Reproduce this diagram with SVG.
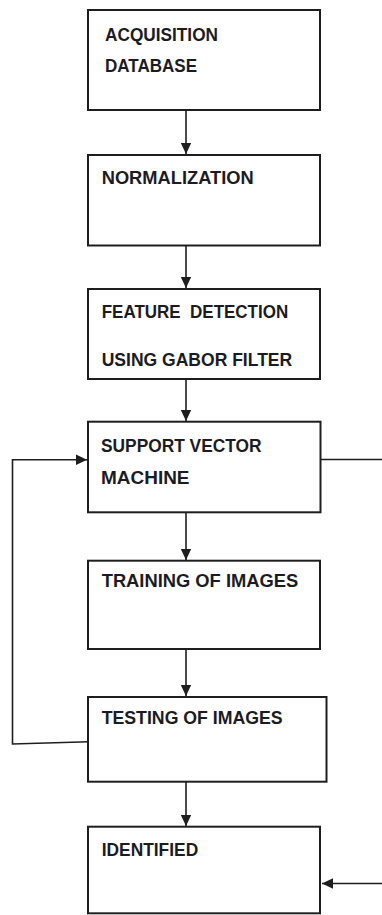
<svg xmlns="http://www.w3.org/2000/svg" width="382" height="915" viewBox="0 0 382 915">
  <style>
    .box { fill: #ffffff; stroke: #1e1e1e; stroke-width: 2; }
    .label { font-family: "Liberation Sans", Arial, sans-serif; font-weight: bold; font-size: 18px; fill: #1b1b24; }
    .wire { fill: none; stroke: #1e1e1e; stroke-width: 1.6; }
  </style>
  <defs>
    <marker id="arrow" markerUnits="userSpaceOnUse" markerWidth="12" markerHeight="12" viewBox="0 0 12 12" refX="11" refY="6" orient="auto">
      <path d="M0,0.8 L11,6 L0,11.2 Z" fill="#1e1e1e"/>
    </marker>
  </defs>

  <rect width="382" height="915" fill="#ffffff"/>

  <!-- connectors -->
  <g id="connectors">
    <line class="wire" x1="186" y1="111" x2="186" y2="154" marker-end="url(#arrow)"/>
    <line class="wire" x1="186" y1="246" x2="186" y2="288" marker-end="url(#arrow)"/>
    <line class="wire" x1="186" y1="380" x2="186" y2="421" marker-end="url(#arrow)"/>
    <line class="wire" x1="186" y1="513" x2="186" y2="560" marker-end="url(#arrow)"/>
    <line class="wire" x1="186" y1="650" x2="186" y2="696" marker-end="url(#arrow)"/>
    <line class="wire" x1="186" y1="782" x2="186" y2="826" marker-end="url(#arrow)"/>
    <!-- feedback loop from testing back to the classifier -->
    <polyline class="wire" points="89,741.7 12.5,744 12.5,459.7 87,459.7" marker-end="url(#arrow)"/>
    <!-- side line leaving the classifier -->
    <line class="wire" x1="321" y1="459.5" x2="382" y2="459.5"/>
    <!-- input into the identified box -->
    <line class="wire" x1="382" y1="883.5" x2="322" y2="883.5" marker-end="url(#arrow)"/>
  </g>

  <g id="acquisition">
    <rect class="box" x="88" y="10" width="232" height="100"/>
    <text class="label" x="105" y="40.5" textLength="113" lengthAdjust="spacingAndGlyphs">ACQUISITION</text>
    <text class="label" x="105" y="72" textLength="92" lengthAdjust="spacingAndGlyphs">DATABASE</text>
  </g>

  <g id="normalization">
    <rect class="box" x="88" y="155" width="232" height="90.5"/>
    <text class="label" x="101.7" y="183.8" textLength="152" lengthAdjust="spacingAndGlyphs">NORMALIZATION</text>
  </g>

  <g id="feature-detection">
    <rect class="box" x="88" y="289" width="232" height="90"/>
    <text class="label" x="101.7" y="317.8" textLength="186.5" lengthAdjust="spacingAndGlyphs" xml:space="preserve">FEATURE  DETECTION</text>
    <text class="label" x="101.7" y="365.5" textLength="190.5" lengthAdjust="spacingAndGlyphs">USING GABOR FILTER</text>
  </g>

  <g id="svm">
    <rect class="box" x="88" y="421.7" width="232.5" height="90.6"/>
    <text class="label" x="101" y="452.2" textLength="160.5" lengthAdjust="spacingAndGlyphs">SUPPORT VECTOR</text>
    <text class="label" x="101" y="483.8" textLength="88.5" lengthAdjust="spacingAndGlyphs">MACHINE</text>
  </g>

  <g id="training">
    <rect class="box" x="88" y="560.7" width="232" height="88.3"/>
    <text class="label" x="101.7" y="587.2" textLength="196.5" lengthAdjust="spacingAndGlyphs">TRAINING OF IMAGES</text>
  </g>

  <g id="testing">
    <rect class="box" x="88" y="697" width="238.5" height="84.7"/>
    <text class="label" x="101.7" y="723.8" textLength="181" lengthAdjust="spacingAndGlyphs">TESTING OF IMAGES</text>
  </g>

  <g id="identified">
    <rect class="box" x="88" y="826.7" width="232" height="86.6"/>
    <text class="label" x="101.7" y="855.5" textLength="96.5" lengthAdjust="spacingAndGlyphs">IDENTIFIED</text>
  </g>
</svg>
